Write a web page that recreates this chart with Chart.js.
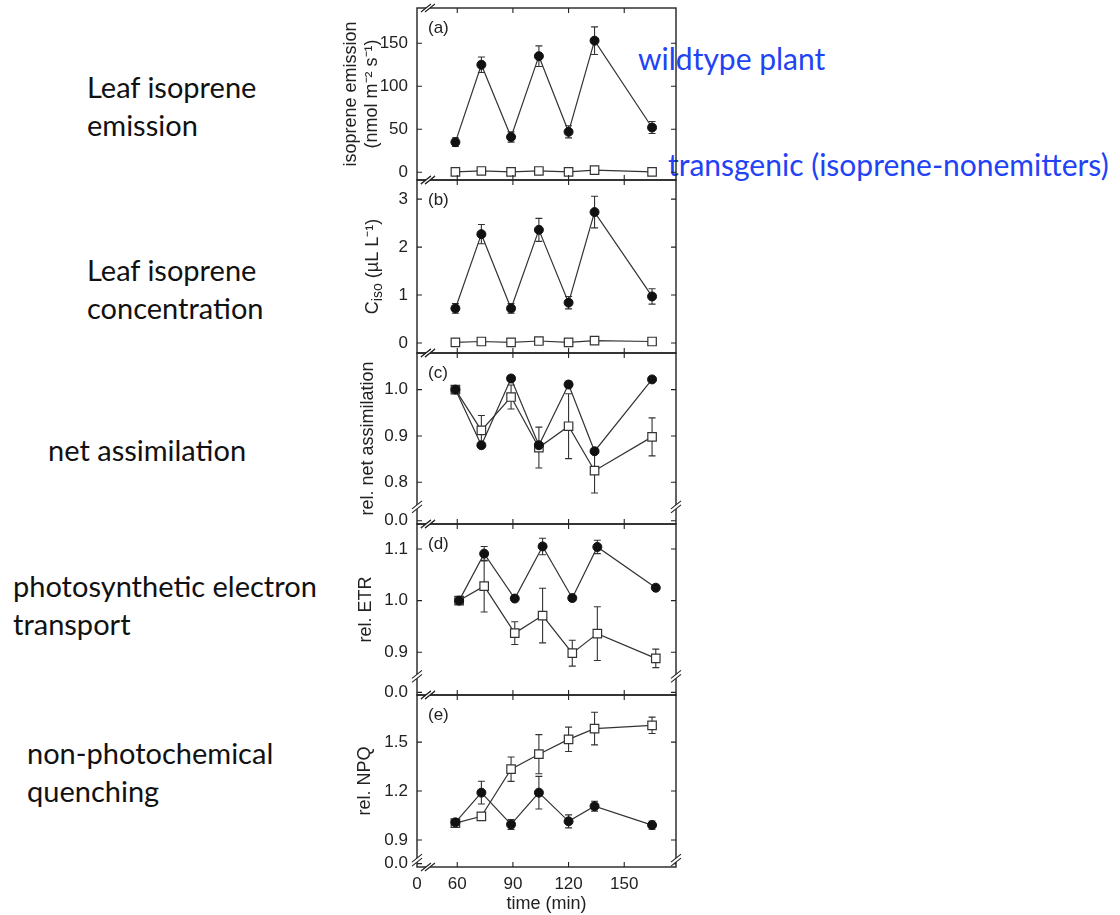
<!DOCTYPE html>
<html>
<head>
<meta charset="utf-8">
<script src="https://cdn.jsdelivr.net/npm/chart.js@4.4.0/dist/chart.umd.min.js"></script>
<style>
  body { margin: 0; background: #fff; width: 1120px; height: 915px; position: relative; overflow: hidden; }
  canvas { position: absolute; }
  .lbl { position: absolute; font-family: Lato, 'Open Sans', sans-serif; font-size: 29px; line-height: 38px; color: #111; white-space: nowrap; }
  .blue { color: #2242f5; font-size: 30px; }
</style>
</head>
<body>
<div class="lbl" style="left:87px;top:68px">Leaf isoprene<br>emission</div>
<div class="lbl" style="left:87px;top:251px">Leaf isoprene<br>concentration</div>
<div class="lbl" style="left:48px;top:431px">net assimilation</div>
<div class="lbl" style="left:13px;top:567px">photosynthetic electron<br>transport</div>
<div class="lbl" style="left:27px;top:734px">non-photochemical<br>quenching</div>
<div class="lbl blue" style="left:638px;top:39px">wildtype plant</div>
<div class="lbl blue" style="left:668px;top:145px">transgenic (isoprene-nonemitters)</div>

<canvas id="cA" width="356" height="216" style="left:340px;top:-14px"></canvas>
<canvas id="cB" width="356" height="217" style="left:340px;top:158px"></canvas>
<canvas id="cC" width="356" height="215" style="left:340px;top:331px"></canvas>
<canvas id="cD" width="356" height="215" style="left:340px;top:502px"></canvas>
<canvas id="cE" width="356" height="242" style="left:340px;top:673px"></canvas>

<script>
// sampling times (min)
const timeMin = [59, 73, 89, 104, 120, 134, 165];
const timeEtr = [61, 74.5, 91, 106, 122, 135.5, 167];
const xTicks = [60, 90, 120, 150];

// (a) isoprene emission
const emisWt = [35, 125, 41, 135, 47, 153, 52];
const emisWtErr = [5, 9, 6, 12, 7, 16, 7];
const emisTg = [0.5, 1.5, 0.5, 1.5, 0.5, 2.5, 0.5];
const emisTgErr = [0.5, 0.5, 0.5, 0.5, 0.5, 0.5, 0.5];
const emisTicks = [0, 50, 100, 150];

// (b) leaf isoprene concentration
const cisoWt = [0.72, 2.27, 0.72, 2.36, 0.84, 2.73, 0.97];
const cisoWtErr = [0.1, 0.2, 0.1, 0.24, 0.13, 0.33, 0.16];
const cisoTg = [0.01, 0.03, 0.01, 0.04, 0.01, 0.05, 0.03];
const cisoTgErr = [0.01, 0.01, 0.01, 0.01, 0.01, 0.01, 0.01];
const cisoTicks = [0, 1, 2, 3];

// (c) relative net assimilation
const assimWt = [1.0, 0.880, 1.024, 0.880, 1.011, 0.867, 1.022];
const assimWtErr = [0.003, 0.005, 0.005, 0.006, 0.007, 0.004, 0.004];
const assimTg = [1.0, 0.912, 0.984, 0.875, 0.921, 0.825, 0.898];
const assimTgErr = [0.003, 0.032, 0.026, 0.044, 0.07, 0.048, 0.041];
const assimTicks = [0.8, 0.9, 1.0];

// (d) relative ETR
const etrWt = [1.0, 1.091, 1.004, 1.105, 1.005, 1.104, 1.025];
const etrWtErr = [0.003, 0.014, 0.004, 0.016, 0.004, 0.013, 0.004];
const etrTg = [1.0, 1.028, 0.937, 0.971, 0.898, 0.936, 0.888];
const etrTgErr = [0.003, 0.05, 0.022, 0.053, 0.025, 0.052, 0.018];
const etrTicks = [0.9, 1.0, 1.1];

// (e) relative NPQ
const npqWt = [1.008, 1.19, 0.995, 1.19, 1.014, 1.107, 0.991];
const npqWtErr = [0.015, 0.07, 0.03, 0.1, 0.04, 0.03, 0.025];
const npqTg = [1.003, 1.045, 1.334, 1.426, 1.517, 1.583, 1.603];
const npqTgErr = [0.015, 0.02, 0.075, 0.12, 0.075, 0.1, 0.05];
const npqTicks = [0.9, 1.2, 1.5];

Chart.defaults.font.family = "'Liberation Sans', Arial, sans-serif";
Chart.defaults.color = '#222';

const X_MIN = 38.3, X_MAX = 177.9, X_BREAK = 44.2;
const INK = '#222';

function drawBreak(ctx, cx, cy, horiz) {
  // two short slanted strokes with a white gap between them
  const d = 2;
  const ox = horiz ? d : 0, oy = horiz ? 0 : d;
  ctx.save();
  ctx.fillStyle = '#fff';
  ctx.beginPath();
  ctx.moveTo(cx - 5 - ox, cy + 4 - oy);
  ctx.lineTo(cx + 5 - ox, cy - 4 - oy);
  ctx.lineTo(cx + 5 + ox, cy - 4 + oy);
  ctx.lineTo(cx - 5 + ox, cy + 4 + oy);
  ctx.closePath();
  ctx.fill();
  ctx.strokeStyle = INK;
  ctx.lineWidth = 1.1;
  ctx.beginPath();
  ctx.moveTo(cx - 5 - ox, cy + 4 - oy); ctx.lineTo(cx + 5 - ox, cy - 4 - oy);
  ctx.moveTo(cx - 5 + ox, cy + 4 + oy); ctx.lineTo(cx + 5 + ox, cy - 4 + oy);
  ctx.stroke();
  ctx.restore();
}

const panelPlugin = {
  id: 'panelFrame',
  beforeDatasetsDraw(chart) {
    const ctx = chart.ctx, ys = chart.scales.y;
    chart.data.datasets.forEach((ds, i) => {
      const meta = chart.getDatasetMeta(i);
      ctx.save();
      ctx.strokeStyle = '#333';
      ctx.lineWidth = 1.1;
      ctx.beginPath();
      meta.data.forEach((pt, j) => {
        const v = ds.data[j].y, e = ds.errors[j];
        const t = ys.getPixelForValue(v + e), b = ys.getPixelForValue(v - e);
        ctx.moveTo(pt.x, t); ctx.lineTo(pt.x, b);
        ctx.moveTo(pt.x - 3.5, t); ctx.lineTo(pt.x + 3.5, t);
        ctx.moveTo(pt.x - 3.5, b); ctx.lineTo(pt.x + 3.5, b);
      });
      ctx.stroke();
      ctx.restore();
    });
  },
  afterDraw(chart, args, opts) {
    const ctx = chart.ctx, a = chart.chartArea;
    const xs = chart.scales.x, ys = chart.scales.y;
    ctx.save();
    ctx.strokeStyle = INK;
    ctx.lineWidth = 1.4;
    ctx.strokeRect(a.left, a.top, a.right - a.left, a.bottom - a.top);
    ctx.lineWidth = 1.1;
    ctx.beginPath();
    ys.ticks.forEach(t => {
      const py = ys.getPixelForValue(t.value);
      ctx.moveTo(a.left, py); ctx.lineTo(a.left + 5, py);
      ctx.moveTo(a.right, py); ctx.lineTo(a.right - 5, py);
    });
    xTicks.forEach(v => {
      const px = xs.getPixelForValue(v);
      ctx.moveTo(px, a.top); ctx.lineTo(px, a.top + 5);
      ctx.moveTo(px, a.bottom); ctx.lineTo(px, a.bottom - 5);
    });
    ctx.stroke();

    const bx = xs.getPixelForValue(X_BREAK);
    drawBreak(ctx, bx, a.top, true);
    drawBreak(ctx, bx, a.bottom, true);
    if (opts.yBreak != null) {
      const by = ys.getPixelForValue(opts.yBreak);
      drawBreak(ctx, a.left, by, false);
      drawBreak(ctx, a.right, by, false);
    }

    ctx.fillStyle = INK;
    ctx.font = "17px 'Liberation Sans', Arial, sans-serif";
    ctx.textAlign = 'left';
    ctx.textBaseline = 'middle';
    ctx.fillText(opts.letter, a.left + 11, a.top + 20);

    if (opts.ciso) {
      // C_iso (µL L-1) with a real subscript
      ctx.save();
      ctx.translate(33, (a.top + a.bottom) / 2);
      ctx.rotate(-Math.PI / 2);
      const big = "18px 'Liberation Sans', Arial, sans-serif";
      const small = "14px 'Liberation Sans', Arial, sans-serif";
      ctx.font = big; const wC = ctx.measureText('C').width;
      const rest = ' (µL L⁻¹)'; const wR = ctx.measureText(rest).width;
      ctx.font = small; const wI = ctx.measureText('iso').width;
      let sx = -(wC + wI + wR) / 2;
      ctx.font = big; ctx.fillText('C', sx, 0);
      ctx.font = small; ctx.fillText('iso', sx + wC, 5);
      ctx.font = big; ctx.fillText(rest, sx + wC + wI, 0);
      ctx.restore();
    }
    ctx.restore();
  }
};

function makePanel(p) {
  const pts = (ts, vals) => ts.map((t, i) => ({ x: t, y: vals[i] }));
  const times = p.time || timeMin;
  const fmt = v => (p.zeroAt != null && v === p.zeroAt) ? '0.0' : (p.decimals ? v.toFixed(p.decimals) : String(v));
  return new Chart(document.getElementById(p.id), {
    type: 'line',
    data: {
      datasets: [
        {
          label: 'wildtype plant',
          data: pts(times, p.wt), errors: p.wtErr,
          borderColor: '#333', borderWidth: 1.2,
          pointStyle: 'circle', pointRadius: 4.5,
          pointBackgroundColor: '#111', pointBorderColor: '#111', pointBorderWidth: 1
        },
        {
          label: 'transgenic',
          data: pts(times, p.tg), errors: p.tgErr,
          borderColor: '#333', borderWidth: 1.2,
          pointStyle: 'rect', pointRadius: 6,
          pointBackgroundColor: '#fff', pointBorderColor: '#333', pointBorderWidth: 1.2
        }
      ]
    },
    options: {
      responsive: false,
      animation: false,
      devicePixelRatio: 1,
      layout: { padding: { left: 0, right: 20, top: 22, bottom: p.showX ? 0 : 22 } },
      plugins: {
        legend: { display: false },
        tooltip: { enabled: false },
        panelFrame: { letter: p.letter, yBreak: p.yBreak, ciso: p.ciso }
      },
      scales: {
        x: {
          type: 'linear', min: X_MIN, max: X_MAX,
          display: !!p.showX,
          grid: { display: false, drawTicks: false }, border: { display: false },
          afterBuildTicks: s => { s.ticks = [X_MIN, ...xTicks].map(v => ({ value: v })); },
          afterFit: s => { s.height = p.showX ? 48 : 0; },
          ticks: {
            padding: 7, autoSkip: false, maxRotation: 0, color: INK,
            font: { size: 17 },
            callback: v => v === X_MIN ? '0' : String(v)
          },
          title: {
            display: !!p.showX, text: 'time (min)', color: INK,
            font: { size: 18 }, padding: { top: 0, bottom: 0 }
          }
        },
        y: {
          type: 'linear', min: p.yMin, max: p.yMax,
          grid: { display: false, drawTicks: false }, border: { display: false },
          afterBuildTicks: s => {
            const list = p.zeroAt != null ? [p.zeroAt, ...p.ticks] : p.ticks;
            s.ticks = list.map(v => ({ value: v }));
          },
          afterFit: s => { s.width = 77; },
          ticks: { padding: 9, autoSkip: false, color: INK, font: { size: 17 }, callback: fmt },
          title: {
            display: !!p.title, text: p.title, color: INK,
            font: { size: 18, lineHeight: 1.2 }, padding: { top: p.titlePad || 0, bottom: 0 }
          }
        }
      }
    },
    plugins: [panelPlugin]
  });
}

makePanel({ id: 'cA', letter: '(a)', wt: emisWt, wtErr: emisWtErr, tg: emisTg, tgErr: emisTgErr,
  yMin: -9, yMax: 191, ticks: emisTicks, decimals: 0,
  title: ['isoprene emission', '(nmol m⁻² s⁻¹)'], titlePad: 0 });
makePanel({ id: 'cB', letter: '(b)', wt: cisoWt, wtErr: cisoWtErr, tg: cisoTg, tgErr: cisoTgErr,
  yMin: -0.21, yMax: 3.4, ticks: cisoTicks, decimals: 0, ciso: true });
makePanel({ id: 'cC', letter: '(c)', wt: assimWt, wtErr: assimWtErr, tg: assimTg, tgErr: assimTgErr,
  yMin: 0.71, yMax: 1.079, ticks: assimTicks, zeroAt: 0.717, yBreak: 0.747, decimals: 1,
  title: 'rel. net assimilation', titlePad: 17 });
makePanel({ id: 'cD', letter: '(d)', time: timeEtr, wt: etrWt, wtErr: etrWtErr, tg: etrTg, tgErr: etrTgErr,
  yMin: 0.817, yMax: 1.1485, ticks: etrTicks, zeroAt: 0.822, yBreak: 0.853, decimals: 1,
  title: 'rel. ETR', titlePad: 15 });
makePanel({ id: 'cE', letter: '(e)', wt: npqWt, wtErr: npqWtErr, tg: npqTg, tgErr: npqTgErr,
  yMin: 0.734, yMax: 1.789, ticks: npqTicks, zeroAt: 0.755, yBreak: 0.776, decimals: 1,
  title: 'rel. NPQ', titlePad: 14, showX: true });
</script>
</body>
</html>
